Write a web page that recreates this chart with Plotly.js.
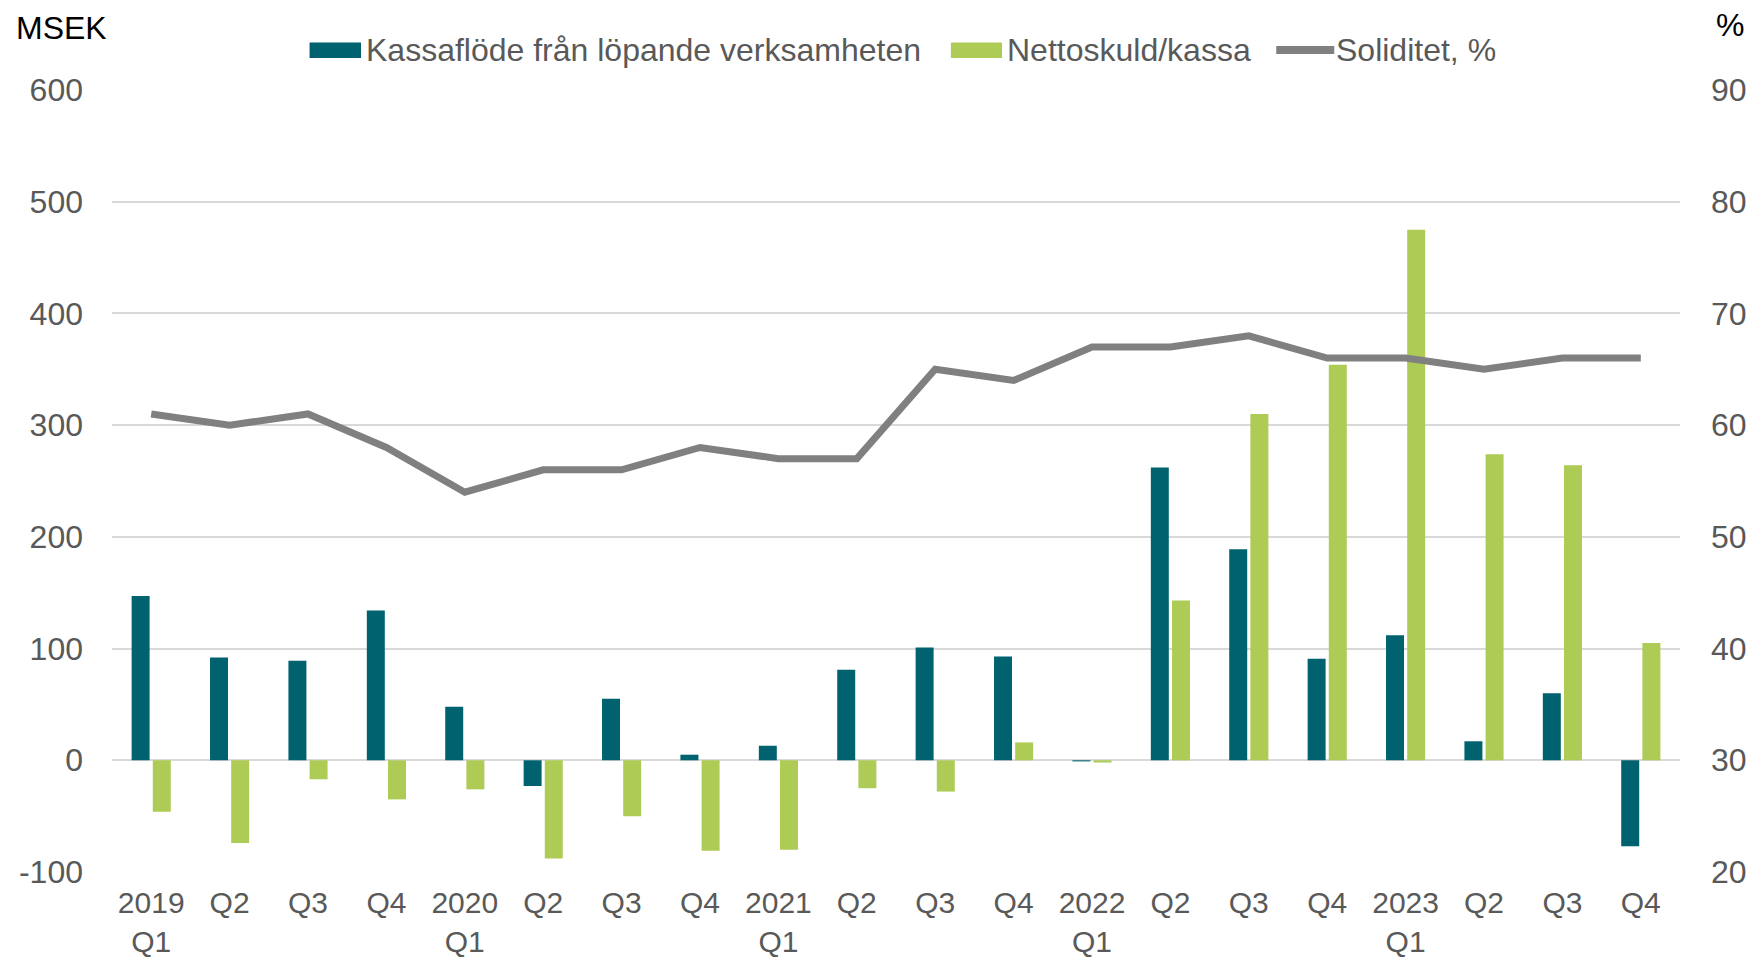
<!DOCTYPE html>
<html>
<head>
<meta charset="utf-8">
<script src="https://cdn.plot.ly/plotly-3.0.1.min.js"></script>
<style>html,body{margin:0;padding:0;background:#fff;}#chart{width:1752px;height:961px;}</style>
</head>
<body>
<div id="chart"></div>
<script>
const categories = ["2019<br>Q1","Q2","Q3","Q4","2020<br>Q1","Q2","Q3","Q4","2021<br>Q1","Q2","Q3","Q4","2022<br>Q1","Q2","Q3","Q4","2023<br>Q1","Q2","Q3","Q4"];
const catKeys = categories.map((c,i)=>"c"+i);
const kassaflode = [147, 92, 89, 134, 48, -23, 55, 5, 13, 81, 101, 93, -1, 262, 189, 91, 112, 17, 60, -77];
const nettoskuld = [-46, -74, -17, -35, -26, -88, -50, -81, -80, -25, -28, 16, -2, 143, 310, 354, 475, 274, 264, 105];
const soliditet = [61, 60, 61, 58, 54, 56, 56, 58, 57, 57, 65, 64, 67, 67, 68, 66, 66, 65, 66, 66];
const leftTicks = [-100, 0, 100, 200, 300, 400, 500, 600];
const leftTickText = ["-100", "0", "100", "200", "300", "400", "500", "600"];
const rightTicks = [20, 30, 40, 50, 60, 70, 80, 90];
const seriesNames = ["Kassaflöde från löpande verksamheten", "Nettoskuld/kassa", "Soliditet, %"];
const colors = ["#00626F", "#ADCB55", "#808080"];

const font = "Liberation Sans, Arial, sans-serif";
const FS = 32;
const traces = [
  {type:"bar", name:seriesNames[0], x:catKeys, y:kassaflode, marker:{color:colors[0]}, yaxis:"y"},
  {type:"bar", name:seriesNames[1], x:catKeys, y:nettoskuld, marker:{color:colors[1]}, yaxis:"y"},
  {type:"scatter", mode:"lines", name:seriesNames[2], x:catKeys, y:soliditet,
   line:{color:colors[2], width:7}, yaxis:"y2"}
];
const legY = 1.0512;
const layout = {
  width:1752, height:961,
  margin:{l:112, r:72, t:90, b:89},
  paper_bgcolor:"#fff", plot_bgcolor:"#fff",
  font:{family:font, size:FS, color:"#595959"},
  barmode:"group", bargap:0.46, bargroupgap:0.15,
  showlegend:false,
  xaxis:{type:"category", tickvals:catKeys, ticktext:categories, showgrid:false,
         showline:false, ticks:"", tickfont:{size:30, color:"#595959"}, ticklabelstandoff:10},
  yaxis:{range:[-100,600], tickvals:leftTicks, ticktext:leftTickText, showgrid:true,
         gridcolor:"#D9D9D9", gridwidth:2, zeroline:true, zerolinecolor:"#D9D9D9", zerolinewidth:2,
         showline:false, ticks:"", ticklabelstandoff:28, tickfont:{size:FS, color:"#595959"}},
  yaxis2:{range:[20,90], tickvals:rightTicks, overlaying:"y", side:"right",
          showgrid:false, zeroline:false, showline:false, ticks:"", ticklabelstandoff:30,
          tickfont:{size:FS, color:"#595959"}},
  shapes:[
    {type:"rect", xref:"paper", yref:"paper", x0:0.126, x1:0.1588, y0:1.0409, y1:1.0607,
     fillcolor:colors[0], line:{width:0}},
    {type:"rect", xref:"paper", yref:"paper", x0:0.535, x1:0.5676, y0:1.0409, y1:1.0607,
     fillcolor:colors[1], line:{width:0}},
    {type:"line", xref:"paper", yref:"paper", x0:0.7425, x1:0.7795, y0:legY, y1:legY,
     line:{color:colors[2], width:8}}
  ],
  annotations:[
    {text:"MSEK", xref:"paper", yref:"paper", x:-0.0625, y:1.079, xanchor:"left", yanchor:"middle",
     showarrow:false, font:{family:font, size:FS, color:"#000"}},
    {text:"%", xref:"paper", yref:"paper", x:1.032, y:1.083, xanchor:"center", yanchor:"middle",
     showarrow:false, font:{family:font, size:FS, color:"#000"}},
    {text:seriesNames[0], xref:"paper", yref:"paper", x:0.1605, y:legY, xanchor:"left", yanchor:"middle",
     showarrow:false, font:{family:font, size:FS, color:"#595959"}},
    {text:seriesNames[1], xref:"paper", yref:"paper", x:0.5695, y:legY, xanchor:"left", yanchor:"middle",
     showarrow:false, font:{family:font, size:FS, color:"#595959"}},
    {text:seriesNames[2], xref:"paper", yref:"paper", x:0.7795, y:legY, xanchor:"left", yanchor:"middle",
     showarrow:false, font:{family:font, size:FS, color:"#595959"}}
  ]
};
Plotly.newPlot("chart", traces, layout, {displayModeBar:false, staticPlot:true});
</script>
</body>
</html>
